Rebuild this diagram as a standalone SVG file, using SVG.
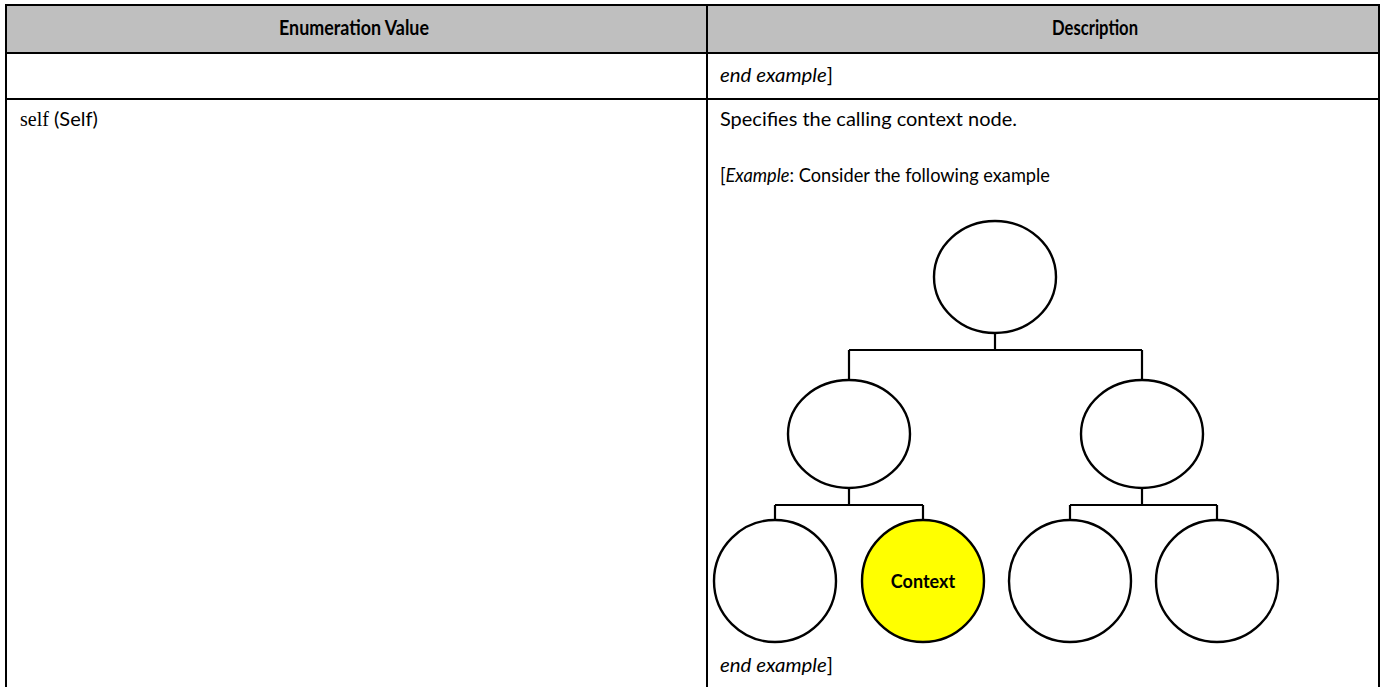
<svg xmlns="http://www.w3.org/2000/svg" width="1383" height="687" viewBox="0 0 1383 687">
  <style>
    .grid { stroke: #000; stroke-width: 2; fill: none; }
    .hdr { font-family: Lato, "Liberation Sans", sans-serif; font-weight: bold; font-size: 20px; fill: #000; }
    .body { font-family: Lato, "Liberation Sans", sans-serif; font-size: 20px; fill: #000; }
    .serif { font-family: "Liberation Serif", serif; }
    .node { stroke: #000; stroke-width: 2.4; fill: #fff; }
    .ctx { fill: #ffff00; }
    .link { stroke: #000; stroke-width: 2.2; fill: none; }
    .lbl { font-family: Lato, "Liberation Sans", sans-serif; font-weight: bold; font-size: 18px; fill: #000; text-anchor: middle; }
  </style>

  <rect width="1383" height="687" fill="#fff"/>

  <!-- table frame -->
  <g id="table">
    <rect x="6" y="5" width="1373" height="48" fill="#bfbfbf"/>
    <line class="grid" x1="5" y1="5" x2="1380" y2="5" stroke-width="1"/>
    <line class="grid" x1="6" y1="5" x2="6" y2="687"/>
    <line class="grid" x1="1379" y1="5" x2="1379" y2="687"/>
    <line class="grid" x1="707" y1="5" x2="707" y2="687"/>
    <line class="grid" x1="6" y1="53" x2="1379" y2="53"/>
    <line class="grid" x1="6" y1="99" x2="1379" y2="99"/>
  </g>

  <!-- cell texts -->
  <g id="texts">
    <text class="hdr" x="354" y="35" text-anchor="middle" textLength="150" lengthAdjust="spacingAndGlyphs">Enumeration Value</text>
    <text class="hdr" x="1052" y="35" textLength="86" lengthAdjust="spacingAndGlyphs">Description</text>
    <text class="body" x="720" y="82" textLength="113" lengthAdjust="spacingAndGlyphs"><tspan font-style="italic">end example</tspan>]</text>
    <text class="body" x="20" y="126"><tspan class="serif">self</tspan> (Self)</text>
    <text class="body" x="720" y="126" textLength="297" lengthAdjust="spacingAndGlyphs">Specifies the calling context node.</text>
    <text class="body" x="720" y="182" textLength="330" lengthAdjust="spacingAndGlyphs">[<tspan font-style="italic">Example</tspan>:  Consider the following example</text>
    <text class="body" x="720" y="672" textLength="113" lengthAdjust="spacingAndGlyphs"><tspan font-style="italic">end example</tspan>]</text>
  </g>

  <!-- tree connectors -->
  <g id="connectors">
    <path class="link" d="M995 333 V350 M849 350 H1142 M849 350 V380 M1142 350 V380"/>
    <path class="link" d="M849 488 V505 M775 505 H923 M775 505 V520 M923 505 V520"/>
    <path class="link" d="M1142 488 V505 M1070 505 H1217 M1070 505 V520 M1217 505 V520"/>
  </g>

  <!-- tree nodes -->
  <g id="node-root"><ellipse class="node" cx="995" cy="277" rx="61" ry="56"/></g>
  <g id="node-left"><ellipse class="node" cx="849" cy="434" rx="61" ry="54"/></g>
  <g id="node-right"><ellipse class="node" cx="1142" cy="434" rx="61" ry="54"/></g>
  <g id="node-left-a"><ellipse class="node" cx="775" cy="581" rx="61" ry="61"/></g>
  <g id="node-context">
    <ellipse class="node ctx" cx="923" cy="581" rx="61" ry="61"/>
    <text class="lbl" x="923" y="588">Context</text>
  </g>
  <g id="node-right-a"><ellipse class="node" cx="1070" cy="581" rx="61" ry="61"/></g>
  <g id="node-right-b"><ellipse class="node" cx="1217" cy="581" rx="61" ry="61"/></g>
</svg>
